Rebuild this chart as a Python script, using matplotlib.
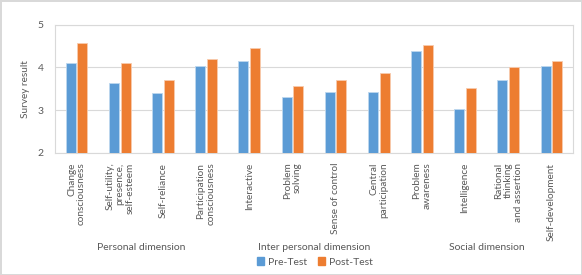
import matplotlib
matplotlib.use('Agg')
import matplotlib.pyplot as plt
import matplotlib.transforms as mtransforms
from matplotlib.patches import Patch
import numpy as np

plt.rcParams['font.family'] = ['Lato', 'DejaVu Sans']

categories = ['Change\nconsciousness', 'Self-utility,\npresence,\nself-esteem', 'Self-reliance',
              'Participation\nconsciousness', 'Interactive', 'Problem\nsolving', 'Sense of control',
              'Central\nparticipation', 'Problem\nawareness', 'Intelligence',
              'Rational\nthinking\nand assertion', 'Self-development']
groups = ['Personal dimension', 'Inter personal dimension', 'Social dimension']
group_size = [4, 4, 4]
pre_test = [4.09, 3.64, 3.39, 4.04, 4.14, 3.30, 3.43, 3.43, 4.37, 3.03, 3.70, 4.04]
post_test = [4.57, 4.09, 3.71, 4.20, 4.45, 3.57, 3.71, 3.87, 4.53, 3.52, 4.00, 4.15]

blue = '#5B9BD5'
orange = '#ED7D31'
grey_txt = '#595959'
grid_col = '#D9D9D9'

fig = plt.figure(figsize=(5.82, 2.75), dpi=100)
fig.patch.set_edgecolor('#D9D9D9')
fig.patch.set_linewidth(1)
ax = fig.add_axes([55 / 582, 122 / 275, 518 / 582, 128.5 / 275])

x = np.arange(len(categories))
w = 0.235
ax.bar(x - 0.135, pre_test, w, color=blue, edgecolor='#BDD7EE', linewidth=0.6, zorder=3)
ax.bar(x + 0.135, post_test, w, color=orange, edgecolor='#F8CBAD', linewidth=0.6, zorder=3)

ax.set_xlim(-0.5, len(categories) - 0.5)
ax.set_ylim(2, 5)
ax.set_yticks([2, 3, 4, 5])
ax.tick_params(axis='y', length=0, labelsize=7.5, colors=grey_txt, pad=8)
ax.grid(axis='y', color=grid_col, linewidth=0.8, zorder=0)
for s in ax.spines.values():
    s.set_color(grid_col)
    s.set_linewidth(0.8)

ax.set_xticks(x)
ax.set_xticklabels(categories, rotation=90, va='top', ha='center', multialignment='right',
                   fontsize=7.2, color=grey_txt, linespacing=1.15)
ax.tick_params(axis='x', length=0, pad=7)

ax.set_ylabel('Survey result', fontsize=7.2, color=grey_txt, labelpad=6)

# group labels under the tick labels
trans = mtransforms.blended_transform_factory(ax.transData, fig.transFigure)
start = 0
for g, n in zip(groups, group_size):
    c = start + (n - 1) / 2
    ax.text(c, 1 - 247 / 275, g, transform=trans, ha='center', va='center',
            fontsize=7.5, color=grey_txt)
    start += n

handles = [Patch(color=blue, label='Pre-Test'), Patch(color=orange, label='Post-Test')]
fig.legend(handles=handles, loc='center', bbox_to_anchor=(315 / 582, 1 - 262 / 275), ncol=2,
           frameon=False, fontsize=7.5, handlelength=0.7, handleheight=0.7,
           handletextpad=0.4, columnspacing=1.0, labelcolor=grey_txt)

fig.savefig('out.png', dpi=100)
